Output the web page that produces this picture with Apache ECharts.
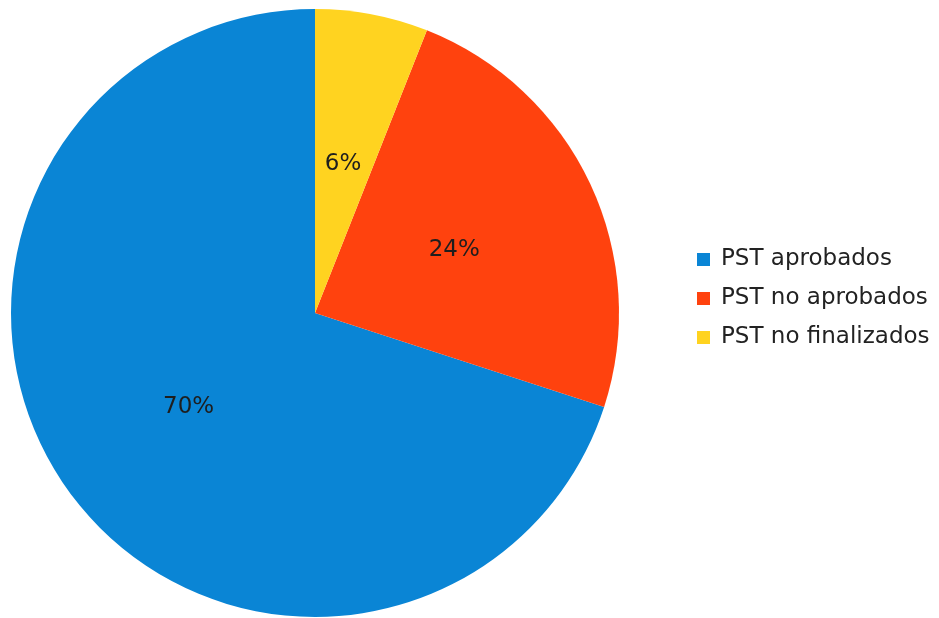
<!DOCTYPE html>
<html>
<head>
<meta charset="utf-8">
<script src="https://cdn.jsdelivr.net/npm/echarts@6/dist/echarts.min.js"></script>
<style>html,body{margin:0;padding:0;background:#fff;}#c{width:939px;height:618px;}</style>
</head>
<body>
<div id="c"></div>
<script>
const categories = ['PST aprobados', 'PST no aprobados', 'PST no finalizados'];
const values = [70, 24, 6];
const colors = ['#0a85d5', '#ff420e', '#ffd320'];

const chart = echarts.init(document.getElementById('c'), null, {renderer: 'canvas'});
chart.setOption({
  animation: false,
  backgroundColor: '#ffffff',
  color: colors,
  legend: {
    orient: 'vertical',
    left: 692,
    top: 243,
    padding: 5,
    itemWidth: 13,
    itemHeight: 13,
    itemGap: 16,
    icon: 'rect',
    textStyle: {fontFamily: 'DejaVu Sans', fontSize: 23, color: '#222', padding: [0,0,0,6]},
    data: categories
  },
  series: [{
    type: 'pie',
    center: [315, 313],
    radius: [0, 304],
    startAngle: 90,
    clockwise: false,
    label: {
      position: 'inside',
      formatter: '{d}%',
      fontFamily: 'DejaVu Sans',
      fontSize: 23,
      color: '#1e1e1e',
      offset: [-1, 3]
    },
    labelLine: {show: false},
    itemStyle: {borderWidth: 0},
    emphasis: {disabled: true},
    data: categories.map((n, i) => ({name: n, value: values[i]}))
  }]
});
</script>
</body>
</html>
